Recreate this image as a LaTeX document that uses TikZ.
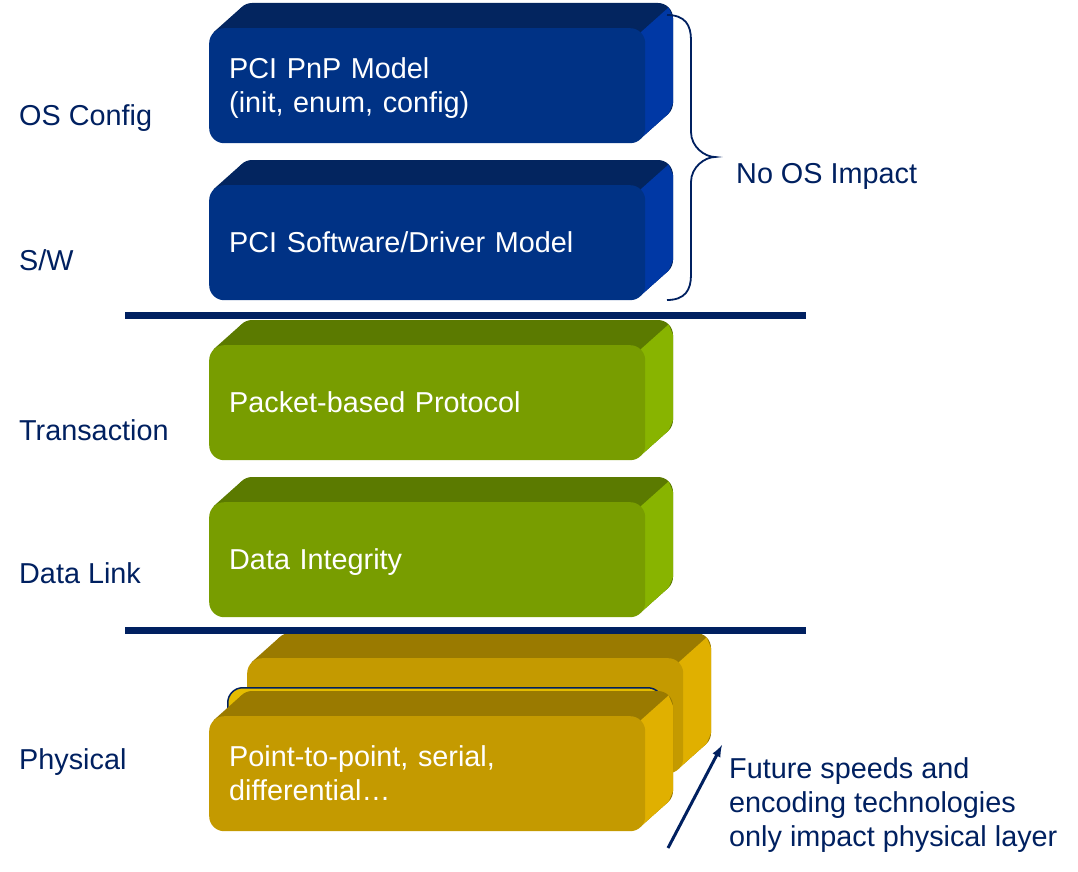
\documentclass[tikz,border=0pt]{standalone}
\usepackage{fontspec}
\setmainfont{Liberation Sans}
\usetikzlibrary{arrows,calc}
\tikzset{>=latex}
\definecolor{navy}{HTML}{002060}
\definecolor{bluefront}{HTML}{003285}
\definecolor{bluetop}{HTML}{03255F}
\definecolor{blueside}{HTML}{0038A5}
\definecolor{greenfront}{HTML}{789D00}
\definecolor{greentop}{HTML}{5B7A00}
\definecolor{greenside}{HTML}{88B400}
\definecolor{goldfront}{HTML}{C49A00}
\definecolor{goldtop}{HTML}{9A7A00}
\definecolor{goldside}{HTML}{E0B000}
\newcommand{\linestrut}{\rule[-0.212em]{0pt}{1.117em}}
\tikzstyle{layer}=[rectangle,rounded corners=15pt,minimum width=436pt,minimum height=115pt,text width=396pt,inner xsep=20pt,inner ysep=0pt,align=left,text=white,font=\fontsize{28.8}{34}\selectfont,execute at begin node=\linestrut,execute at end node=\linestrut,anchor=north west]
\tikzstyle{hiddenlayer}=[rectangle,rounded corners=15pt,draw=navy,line width=1.5pt,fill=goldside!85!yellow,minimum width=435pt,minimum height=110pt,inner sep=0pt,anchor=north west]
\tikzstyle{side}=[text=navy,font=\fontsize{28.8}{34}\selectfont,anchor=base west,inner sep=0pt]
\tikzstyle{divider}=[navy,line width=7pt]

\newcommand{\layerbox}[5]{%
  \fill[#4top,rounded corners=15pt] (#2+28,#3-25) rectangle ++(436,115);
  \fill[#4top] (#2+4.4,#3+4.4) -- (#2+32.4,#3-20.6) -- (#2+459.6,#3+85.6) -- (#2+431.6,#3+110.6) -- cycle;
  \fill[#4side] (#2+431.6,#3+4.4) -- (#2+459.6,#3-20.6) -- (#2+464,#3-10) -- (#2+464,#3+75) -- (#2+459.6,#3+85.6) -- (#2+431.6,#3+110.6) -- cycle;
  \node[layer,fill=#4front] (#1) at (#2,#3) {#5};
}

\begin{document}
\begin{tikzpicture}[x=1pt,y=-1pt]
	\useasboundingbox (0,0) rectangle (1078,872);

	\layerbox{pnp}{209}{28}{blue}{PCI PnP Model\\(init, enum, config)}
	\layerbox{driver}{209}{185}{blue}{PCI Software/Driver Model}
	\layerbox{packet}{209}{345}{green}{Packet-based Protocol}
	\layerbox{integrity}{209}{502}{green}{Data Integrity}
	\layerbox{future}{247}{658}{gold}{}
	\node[hiddenlayer] (spare) at (227,687) {};
	\layerbox{phys}{209}{716}{gold}{Point-to-point, serial,\\differential…}

	\draw[divider] (125,315) -- (806,315);
	\draw[divider] (125,630) -- (806,630);

	\node[side] (osconfig) at (19,125) {OS Config};
	\node[side] (sw) at (19,270) {S/W};
	\node[side] (transaction) at (19,440) {Transaction};
	\node[side] (datalink) at (19,583) {Data Link};
	\node[side] (physical) at (19,769) {Physical};

	\coordinate (bracetop) at (667,15);
	\coordinate (bracetip) at (715,157);
	\coordinate (bracebot) at (667,300);
	\draw[navy,line width=1.8pt] (bracetop) .. controls +(18,0) and +(0,-15) .. (691,40) -- (691,132) .. controls +(0,15) and +(-10,0) .. (bracetip) .. controls +(-10,0) and +(0,-15) .. (691,182) -- (691,275) .. controls +(0,15) and +(18,0) .. (bracebot);
	\node[side] (noimpact) at (736,183) {No OS Impact};

	\coordinate (arrowfoot) at (668,848);
	\coordinate (arrowtip) at (722,745);
	\draw[->,navy,line width=3pt] (arrowfoot) -- (arrowtip);
	\node[side,anchor=north west,align=left] (futurenote) at (729,757) {Future speeds and\\encoding technologies\\only impact physical layer};
\end{tikzpicture}
\end{document}
